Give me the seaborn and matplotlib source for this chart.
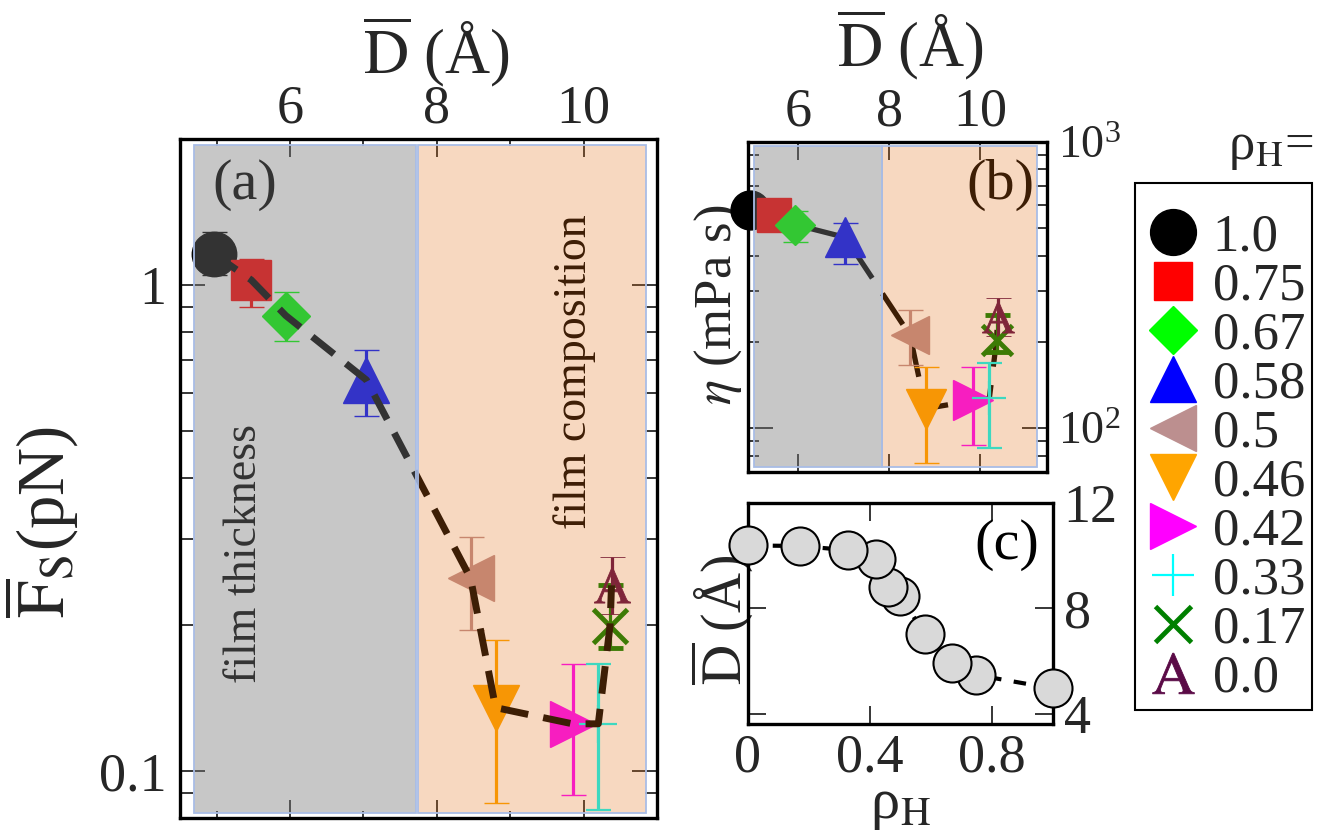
import numpy as np
import pandas as pd
import matplotlib
matplotlib.use("Agg")
import matplotlib.pyplot as plt
import matplotlib.ticker as mticker
import matplotlib.patches as mpatches
from matplotlib.lines import Line2D
import seaborn as sns

# ---------------- data ----------------
rho = [1.0, 0.75, 0.67, 0.58, 0.5, 0.46, 0.42, 0.33, 0.17, 0.0]
rho_labels = ["1.0", "0.75", "0.67", "0.58", "0.5", "0.46", "0.42", "0.33", "0.17", "0.0"]
D_mean = [4.96, 5.47, 5.94, 7.04, 8.46, 8.80, 9.85, 10.20, 10.36, 10.38]
Fs = [1.16, 1.025, 0.866, 0.638, 0.249, 0.135, 0.125, 0.125, 0.199, 0.241]
Fs_hi = [1.285, 1.13, 0.969, 0.736, 0.303, 0.186, 0.166, 0.166, 0.241, 0.275]
Fs_lo = [1.05, 0.90, 0.768, 0.538, 0.195, 0.086, 0.089, 0.083, 0.179, 0.21]
eta = [575, 553, 513, 463, 211, 117, 125, 127, 203, 244]
eta_hi = [600, 575, 571, 518, 258, 163, 163, 169, 248, 285]
eta_lo = [550, 530, 445, 375, 166, 75.4, 87.7, 85, 185, 210]

# ---------------- styles ----------------
colors = ["#000000", "#ff0000", "#00ff00", "#0000ff", "#bc8f8f",
          "#ffa500", "#ff00ff", "#00ffff", "#008000", "#5a0a46"]
markers = ["o", "s", "D", "^", "<", "v", ">", "+", "x", r"$\mathrm{A}$"]
ms_a = [32, 29, 24, 33, 33, 33, 33, 27, 24, 26]
ms_b = [28, 25, 20, 29, 27, 29, 29, 24, 22, 23]
ms_leg = [33, 28, 24, 33, 33, 33, 33, 30, 26, 30]
mew = [1, 1, 1, 1, 1, 1, 1, 1.6, 3.5, 0.6]

sns.set_theme(style="ticks")
plt.rcParams["font.family"] = ["Liberation Serif", "DejaVu Serif"]
plt.rcParams["mathtext.fontset"] = "stix"
plt.rcParams["axes.linewidth"] = 2.4

GRAY = (123 / 255, 123 / 255, 123 / 255, 0.42)
PEACH = (229 / 255, 111 / 255, 22 / 255, 0.27)
EDGE = "#a9bde6"

TICK_FS = 39
LAB_FS = 45

fig = plt.figure(figsize=(13.19, 8.38), dpi=100)
ax_a = fig.add_axes([0.1365, 0.0239, 0.3616, 0.8103])
ax_b = fig.add_axes([0.5669, 0.4371, 0.2267, 0.3940])
ax_c = fig.add_axes([0.5669, 0.1357, 0.2311, 0.2644])

for ax in (ax_a, ax_b, ax_c):
    ax.set_facecolor("white")
    for sp in ax.spines.values():
        sp.set_linewidth(2.4)
        sp.set_color("black")


def draw_points(ax, sizes, y, ylo, yhi, zo=3):
    for i in range(len(D_mean)):
        ax.errorbar([D_mean[i]], [y[i]],
                    yerr=[[y[i] - ylo[i]], [yhi[i] - y[i]]],
                    marker=markers[i], linestyle="none", color=colors[i],
                    ms=sizes[i], mew=mew[i], ecolor=colors[i],
                    elinewidth=2.3, capsize=9, capthick=2.3,
                    zorder=zo, clip_on=False)


# ---------------- panel (a) ----------------
ax = ax_a
ax.set_yscale("log")
draw_points(ax, ms_a, Fs, Fs_lo, Fs_hi)
sns.lineplot(x=D_mean, y=Fs, ax=ax, sort=False, estimator=None,
             color="black", lw=5, linestyle=(0, (4, 2.2)), zorder=4)
ax.axvspan(4.69, 7.71, ymin=0.0074, ymax=0.991, facecolor=GRAY,
           edgecolor=EDGE, lw=1.3, zorder=10)
ax.axvspan(7.74, 10.85, ymin=0.0074, ymax=0.991, facecolor=PEACH,
           edgecolor=EDGE, lw=1.3, zorder=10)
ax.set_xlim(4.5, 11.0)
ax.set_ylim(0.08, 2.0)
ax.xaxis.set_major_locator(mticker.FixedLocator([6, 8, 10]))
ax.xaxis.set_minor_locator(mticker.FixedLocator([5, 7, 9, 11]))
ax.xaxis.set_major_formatter(mticker.FixedFormatter(["6", "8", "10"]))
ax.yaxis.set_major_locator(mticker.FixedLocator([0.1, 1]))
ax.yaxis.set_major_formatter(mticker.FixedFormatter(["0.1", "1"]))
ax.yaxis.set_minor_locator(mticker.LogLocator(base=10, subs=np.arange(2, 10)))
ax.yaxis.set_minor_formatter(mticker.NullFormatter())
ax.tick_params(axis="x", which="both", direction="in", top=True, bottom=True,
               labeltop=True, labelbottom=False, labelsize=TICK_FS, pad=3, width=1.3)
ax.tick_params(axis="x", which="major", length=13)
ax.tick_params(axis="x", which="minor", length=5)
ax.tick_params(axis="y", which="both", direction="in", left=True, right=True,
               labelsize=TICK_FS, pad=10, width=1.3)
ax.tick_params(axis="y", which="major", length=18)
ax.tick_params(axis="y", which="minor", length=9)
ax.xaxis.set_label_position("top")
ax.set_xlabel(r"$\overline{\mathrm{D}}$ (Å)", fontsize=LAB_FS)
ax.xaxis.label.set_verticalalignment("center")
ax.xaxis.set_label_coords(0.537, 1.128)
ax.set_ylabel(r"$\overline{\mathrm{F}}_\mathrm{S}$(pN)", fontsize=48)
ax.yaxis.label.set_verticalalignment("center")
ax.yaxis.set_label_coords(-0.29, 0.436)
ax.text(0.136, 0.932, "(a)", transform=ax.transAxes, fontsize=42,
        ha="center", va="center", color="black", zorder=3)
ax.text(0.136, 0.39, "film thickness", transform=ax.transAxes, fontsize=33,
        rotation=90, ha="center", va="center", color="black", zorder=3)
ax.text(0.828, 0.657, "film composition", transform=ax.transAxes, fontsize=33,
        rotation=90, ha="center", va="center", color="black", zorder=3)

# ---------------- panel (b) ----------------
ax = ax_b
ax.set_yscale("log")
sns.lineplot(x=D_mean, y=eta, ax=ax, sort=False, estimator=None,
             color="black", lw=3.8, linestyle=(0, (7, 3.5)), zorder=2)
draw_points(ax, ms_b, eta, eta_lo, eta_hi)
ax.axvspan(5.04, 7.84, ymin=0.015, ymax=0.986, facecolor=GRAY,
           edgecolor=EDGE, lw=1.3, zorder=10)
ax.axvspan(7.85, 11.24, ymin=0.015, ymax=0.986, facecolor=PEACH,
           edgecolor=EDGE, lw=1.3, zorder=10)
ax.set_xlim(4.9, 11.46)
ax.set_ylim(70.5, 1000)
ax.xaxis.set_major_locator(mticker.FixedLocator([6, 8, 10]))
ax.xaxis.set_major_formatter(mticker.FixedFormatter(["6", "8", "10"]))
ax.xaxis.set_minor_locator(mticker.NullLocator())
ax.yaxis.set_major_locator(mticker.LogLocator(base=10, numticks=5))
ax.yaxis.set_major_formatter(mticker.LogFormatterMathtext())
ax.yaxis.set_minor_locator(mticker.LogLocator(base=10, subs=np.arange(2, 10), numticks=20))
ax.yaxis.set_minor_formatter(mticker.NullFormatter())
ax.tick_params(axis="x", which="both", direction="in", top=True, bottom=True,
               labeltop=True, labelbottom=False, labelsize=TICK_FS, pad=3,
               width=1.3, length=13)
ax.tick_params(axis="y", which="both", direction="in", left=True, right=True,
               labelleft=False, labelright=True, labelsize=33, pad=8, width=1.3)
ax.tick_params(axis="y", which="major", length=18)
ax.tick_params(axis="y", which="minor", length=8)
ax.xaxis.set_label_position("top")
ax.set_xlabel(r"$\overline{\mathrm{D}}$ (Å)", fontsize=LAB_FS)
ax.xaxis.label.set_verticalalignment("center")
ax.xaxis.set_label_coords(0.543, 1.292)
ax.set_ylabel(r"$\eta$ (mPa s)", fontsize=38)
ax.yaxis.set_label_position("left")
ax.yaxis.label.set_verticalalignment("center")
ax.yaxis.set_label_coords(-0.099, 0.505)
ax.text(0.844, 0.868, "(b)", transform=ax.transAxes, fontsize=42,
        ha="center", va="center", color="black", zorder=3)

# ---------------- panel (c) ----------------
ax = ax_c
sns.lineplot(x=rho, y=D_mean, ax=ax, estimator=None, color="black",
             lw=3, linestyle=(0, (3, 3)), zorder=2)
sns.scatterplot(x=rho, y=D_mean, ax=ax, s=750, color="#d9d9d9",
                edgecolor="black", linewidth=1.5, zorder=3, clip_on=False)
ax.set_xlim(0, 1.0)
ax.set_ylim(3.6, 12)
ax.xaxis.set_major_locator(mticker.FixedLocator([0, 0.4, 0.8]))
ax.xaxis.set_major_formatter(mticker.FixedFormatter(["0", "0.4", "0.8"]))
ax.yaxis.set_major_locator(mticker.FixedLocator([4, 8, 12]))
ax.yaxis.set_major_formatter(mticker.FixedFormatter(["4", "8", "12"]))
ax.tick_params(axis="x", which="both", direction="in", top=True, bottom=True,
               labelsize=TICK_FS, pad=6, width=1.3, length=13)
ax.tick_params(axis="y", which="both", direction="in", left=True, right=True,
               labelleft=False, labelright=True, labelsize=TICK_FS, pad=8,
               width=1.3, length=13)
ax.set_xlabel(r"ρ$_\mathrm{H}$", fontsize=42)
ax.xaxis.label.set_verticalalignment("center")
ax.xaxis.set_label_coords(0.5, -0.37)
ax.set_ylabel(r"$\overline{\mathrm{D}}$ (Å)", fontsize=40)
ax.yaxis.set_label_position("left")
ax.yaxis.label.set_verticalalignment("center")
ax.yaxis.set_label_coords(-0.084, 0.471)
ax.text(0.851, 0.809, "(c)", transform=ax.transAxes, fontsize=42,
        ha="center", va="center", color="black", zorder=3)

# ---------------- legend ----------------
handles = [Line2D([], [], marker=markers[i], color=colors[i], linestyle="none",
                  ms=ms_leg[i], mew=mew[i]) for i in range(len(rho))]
leg = fig.legend(handles, rho_labels, loc="upper left",
                 bbox_to_anchor=(0.8605, 0.7518), borderaxespad=0,
                 fontsize=38, frameon=False,
                 borderpad=0.1, labelspacing=0.02, handlelength=1.25,
                 handletextpad=0.12, numpoints=1)
fig.add_artist(mpatches.Rectangle((0.8605, 0.1527), 0.1342, 0.6289,
                                  transform=fig.transFigure, fill=False,
                                  edgecolor="black", linewidth=1.5))
fig.text(0.9955, 0.823, r"ρ$_\mathrm{H}$=", fontsize=38, ha="right", va="center")

fig.savefig("out.png", dpi=100)
